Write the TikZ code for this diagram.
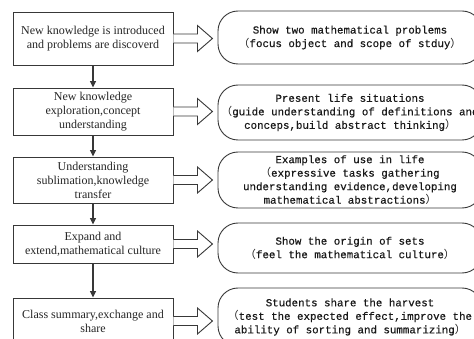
\documentclass[tikz,border=0pt]{standalone}
\usepackage{fontspec}
\setmainfont{Liberation Serif}
\setmonofont[FakeBold=0.5]{Liberation Mono}
\newfontfamily\cjkfont{Noto Sans CJK SC}
\usetikzlibrary{calc,arrows.meta}
\newcommand{\flp}{{\cjkfont （}}
\newcommand{\frp}{{\cjkfont ）}}
\begin{document}
\begin{tikzpicture}[x=1pt,y=-1pt,
  lbox/.style={draw=black!78, line width=0.9pt, fill=white, minimum width=160pt,
    align=center, font=\fontsize{12}{14}\selectfont, text=black!85, inner sep=0pt},
  rbox/.style={draw=black!78, line width=0.9pt, rounded corners=20pt, minimum width=264pt,
    align=center, font=\ttfamily\fontsize{10.8}{13.5}\selectfont, text=black!90, inner sep=0pt},
  barrow/.style={draw=black!78, line width=0.9pt, fill=white, line join=miter},
  varrow/.style={draw=black!78, line width=1.1pt, -{Triangle[length=6.5pt,width=6pt]}}]
\useasboundingbox (0,0) rectangle (474,339);
\clip (0,0) rectangle (474,339);

\node[lbox, minimum height=53pt] (L1) at (93,38.5) {New knowledge is introduced\\and problems are discoverd};
\node[lbox, minimum height=47pt] (L2) at (93,111.5) {New knowledge\\exploration,concept\\understanding};
\node[lbox, minimum height=46pt] (L3) at (93,180) {Understanding\\sublimation,knowledge\\transfer};
\node[lbox, minimum height=38pt] (L4) at (93,244) {Expand and\\extend,mathematical culture};
\node[lbox, minimum height=46pt] (L5) at (93,321) {Class summary,exchange and\\share};

\node[rbox, minimum height=53pt] (R1) at (350,37.5) {Show two mathematical problems\\\flp focus object and scope of stduy\frp};
\node[rbox, minimum height=55pt] (R2) at (350,112.5) {Present life situations\\\flp guide understanding of definitions and\\conceps,build abstract thinking\frp};
\node[rbox, minimum height=56pt] (R3) at (350,180) {Examples of use in life\\\flp expressive tasks gathering\\understanding evidence,developing\\mathematical abstractions\frp};
\node[rbox, minimum height=50pt] (R4) at (350,248) {Show the origin of sets\\\flp feel the mathematical culture\frp};
\node[rbox, minimum height=58pt] (R5) at (350,317) {Students share the harvest\\\flp test the expected effect,improve the\\ability of sorting and summarizing\frp};

\foreach \i in {1,...,5}{
  \draw[barrow] ($(L\i.east)+(0,-4.5)$) -- ($(L\i.east)+(24,-4.5)$) -- ($(L\i.east)+(24,-13)$)
     -- ($(L\i.east)+(39,0)$) -- ($(L\i.east)+(24,13)$) -- ($(L\i.east)+(24,4.5)$) -- ($(L\i.east)+(0,4.5)$);
}
\draw[varrow] (L1.south) -- (L2.north);
\draw[varrow] (L2.south) -- (L3.north);
\draw[varrow] (L3.south) -- (L4.north);
\draw[varrow] (L4.south) -- (L5.north);
\end{tikzpicture}
\end{document}
